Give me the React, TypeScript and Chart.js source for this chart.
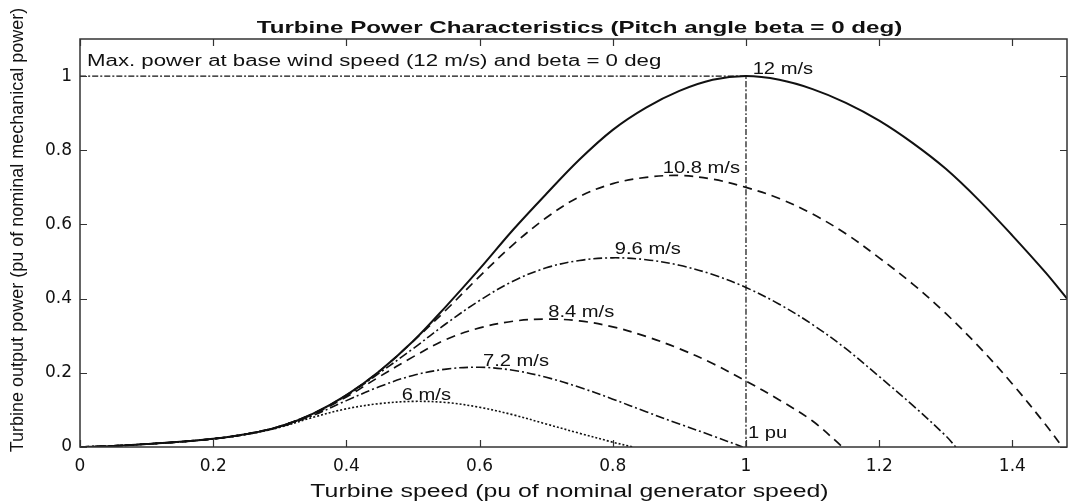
import { useEffect, useRef } from 'react';
import { Chart, registerables } from 'chart.js';

Chart.register(...registerables);

const TITLE = 'Turbine Power Characteristics (Pitch angle beta = 0 deg)';
const X_TITLE = 'Turbine speed (pu of nominal generator speed)';
const Y_TITLE = 'Turbine output power (pu of nominal mechanical power)';
const NOTE = 'Max. power at base wind speed (12 m/s) and beta = 0 deg';

// Turbine speed samples (pu) and output power (pu) per wind speed
const speed12 = [0, 0.05, 0.1, 0.15, 0.2, 0.25, 0.3, 0.35, 0.4, 0.45, 0.5, 0.55, 0.6, 0.65, 0.7, 0.75, 0.8, 0.85, 0.9, 0.95, 1.0, 1.05, 1.1, 1.15, 1.2, 1.25, 1.3, 1.35, 1.4, 1.45, 1.482];
const power12 = [0, 0.003, 0.008, 0.014, 0.022, 0.035, 0.055, 0.09, 0.14, 0.205, 0.285, 0.38, 0.48, 0.585, 0.682, 0.775, 0.855, 0.915, 0.96, 0.99, 1.0, 0.99, 0.965, 0.928, 0.88, 0.82, 0.75, 0.665, 0.57, 0.47, 0.4];

const speed108 = [0, 0.05, 0.1, 0.15, 0.2, 0.25, 0.3, 0.35, 0.4, 0.45, 0.5, 0.55, 0.6, 0.65, 0.7, 0.75, 0.8, 0.85, 0.9, 0.95, 1.0, 1.05, 1.1, 1.15, 1.2, 1.25, 1.3, 1.35, 1.4, 1.45, 1.475];
const power108 = [0, 0.003, 0.008, 0.014, 0.022, 0.035, 0.056, 0.09, 0.14, 0.205, 0.285, 0.37, 0.46, 0.545, 0.618, 0.675, 0.71, 0.727, 0.732, 0.722, 0.7, 0.67, 0.628, 0.575, 0.51, 0.44, 0.36, 0.27, 0.17, 0.06, 0];

const speed96 = [0, 0.05, 0.1, 0.15, 0.2, 0.25, 0.3, 0.35, 0.4, 0.45, 0.5, 0.55, 0.6, 0.65, 0.7, 0.75, 0.8, 0.85, 0.9, 0.95, 1.0, 1.05, 1.1, 1.15, 1.2, 1.25, 1.3, 1.315];
const power96 = [0, 0.003, 0.008, 0.014, 0.022, 0.035, 0.056, 0.09, 0.138, 0.2, 0.265, 0.333, 0.395, 0.447, 0.483, 0.503, 0.51, 0.505, 0.49, 0.465, 0.43, 0.385, 0.33, 0.265, 0.19, 0.113, 0.03, 0];

const speed84 = [0, 0.05, 0.1, 0.15, 0.2, 0.25, 0.3, 0.35, 0.4, 0.45, 0.5, 0.55, 0.6, 0.65, 0.7, 0.75, 0.8, 0.85, 0.9, 0.95, 1.0, 1.05, 1.1, 1.145];
const power84 = [0, 0.003, 0.008, 0.014, 0.022, 0.035, 0.056, 0.088, 0.135, 0.19, 0.243, 0.29, 0.321, 0.339, 0.345, 0.34, 0.324, 0.298, 0.265, 0.225, 0.178, 0.127, 0.07, 0];

const speed72 = [0, 0.05, 0.1, 0.15, 0.2, 0.25, 0.3, 0.35, 0.4, 0.45, 0.5, 0.55, 0.6, 0.65, 0.7, 0.75, 0.8, 0.85, 0.9, 0.95, 0.995];
const power72 = [0, 0.003, 0.008, 0.014, 0.022, 0.034, 0.054, 0.085, 0.125, 0.163, 0.193, 0.21, 0.215, 0.207, 0.188, 0.161, 0.129, 0.095, 0.062, 0.03, 0];

const speed6 = [0, 0.05, 0.1, 0.15, 0.2, 0.25, 0.3, 0.35, 0.4, 0.45, 0.5, 0.55, 0.6, 0.65, 0.7, 0.75, 0.8, 0.83];
const power6 = [0, 0.003, 0.008, 0.014, 0.022, 0.034, 0.053, 0.08, 0.103, 0.117, 0.123, 0.12, 0.107, 0.087, 0.062, 0.037, 0.013, 0];

// Reference (1 pu) lines
const refHorizX = [0, 1];
const refHorizY = [1, 1];
const refVertX = [1, 1];
const refVertY = [0, 1];

// Curve annotations (data coordinates of the text's left baseline)
const labelTexts = ['12 m/s', '10.8 m/s', '9.6 m/s', '8.4 m/s', '7.2 m/s', '6 m/s', '1 pu'];
const labelX = [1.01, 0.875, 0.803, 0.703, 0.605, 0.483, 1.003];
const labelY = [1.005, 0.74, 0.519, 0.351, 0.219, 0.127, 0.024];

const X_MIN = 0;
const X_MAX = 1.482;
const Y_MIN = 0;
const Y_MAX = 1.1;
const TICK_STEP = 0.2;

const FONT = '"Liberation Sans", Arial, Helvetica, sans-serif';

const pts = (xs: number[], ys: number[]) => xs.map((x, i) => ({ x, y: ys[i] }));

function stretchText(
  ctx: CanvasRenderingContext2D,
  text: string,
  x: number,
  y: number,
  font: string,
  align: CanvasTextAlign,
  sx: number,
) {
  ctx.save();
  ctx.font = font;
  ctx.fillStyle = '#111';
  ctx.textBaseline = 'alphabetic';
  ctx.textAlign = align;
  ctx.translate(x, y);
  ctx.scale(sx, 1);
  ctx.fillText(text, 0, 0);
  ctx.restore();
}

const framePlugin = {
  id: 'frameAndText',
  afterDraw(chart: any) {
    const { ctx, chartArea: ca } = chart;
    const xs = chart.scales.x;
    const ys = chart.scales.y;
    ctx.save();
    ctx.strokeStyle = '#333';
    ctx.lineWidth = 1.5;
    ctx.strokeRect(ca.left, ca.top, ca.right - ca.left, ca.bottom - ca.top);
    ctx.lineWidth = 1.2;
    const tl = 7;
    ctx.beginPath();
    xs.ticks.forEach((t: any) => {
      const px = Math.round(xs.getPixelForValue(t.value)) + 0.5;
      ctx.moveTo(px, ca.bottom);
      ctx.lineTo(px, ca.bottom - tl);
      ctx.moveTo(px, ca.top);
      ctx.lineTo(px, ca.top + tl);
    });
    ys.ticks.forEach((t: any) => {
      const py = Math.round(ys.getPixelForValue(t.value)) + 0.5;
      ctx.moveTo(ca.left, py);
      ctx.lineTo(ca.left + tl, py);
      ctx.moveTo(ca.right, py);
      ctx.lineTo(ca.right - tl, py);
    });
    ctx.stroke();
    ctx.restore();

    stretchText(ctx, TITLE, (ca.left + ca.right) / 2 + 6, 33, `bold 17px ${FONT}`, 'center', 1.42);
    stretchText(ctx, NOTE, ca.left + 7, 66, `16px ${FONT}`, 'left', 1.39);
    labelTexts.forEach((t, i) => {
      stretchText(ctx, t, xs.getPixelForValue(labelX[i]), ys.getPixelForValue(labelY[i]), `16px ${FONT}`, 'left', 1.26);
    });
    stretchText(ctx, X_TITLE, (ca.left + ca.right) / 2 - 4, 497, `18px ${FONT}`, 'center', 1.38);
    ctx.save();
    ctx.translate(23, 230);
    ctx.rotate(-Math.PI / 2);
    ctx.font = `18px ${FONT}`;
    ctx.fillStyle = '#111';
    ctx.textAlign = 'center';
    ctx.textBaseline = 'alphabetic';
    ctx.fillText(Y_TITLE, 0, 0);
    ctx.restore();
  },
};

export default function App() {
  const ref = useRef<HTMLCanvasElement | null>(null);

  useEffect(() => {
    const canvas = ref.current;
    if (!canvas) return;
    const black = '#111';
    const chart = new Chart(canvas, {
      type: 'line',
      data: {
        datasets: [
          { label: 'ref-h', data: pts(refHorizX, refHorizY), borderColor: black, borderWidth: 1.2, borderDash: [6, 2, 2, 2] },
          { label: 'ref-v', data: pts(refVertX, refVertY), borderColor: black, borderWidth: 1.2, borderDash: [6, 2, 2, 2] },
          { label: '6 m/s', data: pts(speed6, power6), borderColor: black, borderWidth: 1.6, borderDash: [2, 2] },
          { label: '7.2 m/s', data: pts(speed72, power72), borderColor: black, borderWidth: 1.6, borderDash: [9, 3, 2, 3] },
          { label: '8.4 m/s', data: pts(speed84, power84), borderColor: black, borderWidth: 1.7, borderDash: [9, 6] },
          { label: '9.6 m/s', data: pts(speed96, power96), borderColor: black, borderWidth: 1.6, borderDash: [9, 3, 2, 3] },
          { label: '10.8 m/s', data: pts(speed108, power108), borderColor: black, borderWidth: 1.7, borderDash: [9, 6] },
          { label: '12 m/s', data: pts(speed12, power12), borderColor: black, borderWidth: 2 },
        ].map((d) => ({
          ...d,
          pointRadius: 0,
          pointHoverRadius: 0,
          fill: false,
          tension: 0.35,
        })),
      },
      options: {
        responsive: false,
        animation: false,
        devicePixelRatio: 1,
        events: [],
        layout: { padding: { top: 39, right: 1, left: 0, bottom: 0 } },
        plugins: {
          legend: { display: false },
          title: { display: false },
          tooltip: { enabled: false },
        },
        scales: {
          x: {
            type: 'linear',
            min: X_MIN,
            max: X_MAX,
            grid: { display: false, drawTicks: false },
            border: { display: false },
            ticks: {
              stepSize: TICK_STEP,
              includeBounds: false,
              autoSkip: false,
              maxRotation: 0,
              padding: 9,
              color: '#111',
              font: { family: 'DejaVu Sans', size: 17 },
              callback: (v: any) => String(Number(Number(v).toFixed(1))),
            },
            afterFit: (s: any) => {
              s.height = 57;
            },
          },
          y: {
            type: 'linear',
            min: Y_MIN,
            max: Y_MAX,
            grid: { display: false, drawTicks: false },
            border: { display: false },
            ticks: {
              stepSize: TICK_STEP,
              includeBounds: false,
              autoSkip: false,
              padding: 8,
              color: '#111',
              font: { family: 'DejaVu Sans', size: 17 },
              callback: (v: any) => String(Number(Number(v).toFixed(1))),
            },
            afterFit: (s: any) => {
              s.width = 80;
            },
          },
        },
      },
      plugins: [framePlugin],
    });
    return () => chart.destroy();
  }, []);

  return (
    <div style={{ position: 'absolute', left: 0, top: 0, width: 1068, height: 504, background: '#fff' }}>
      <canvas ref={ref} width={1068} height={504} style={{ width: 1068, height: 504, display: 'block' }} />
    </div>
  );
}
